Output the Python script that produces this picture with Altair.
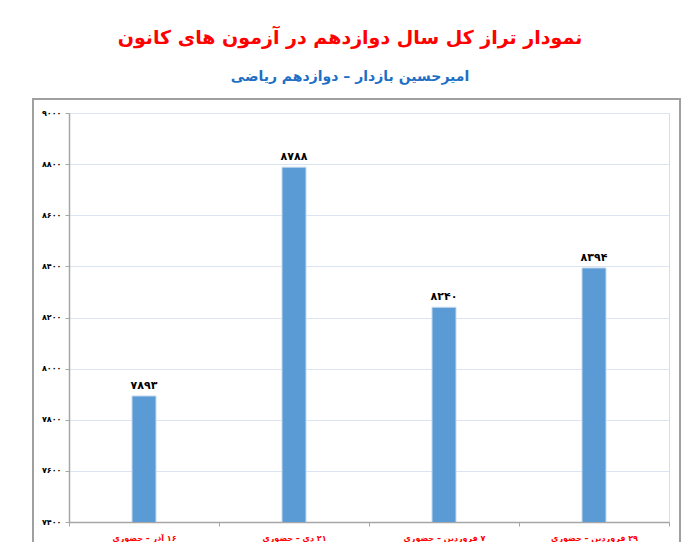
import altair as alt
import pandas as pd

categories = ["۱۶ آذر – حضوری", "۲۱ دی – حضوری", "۷ فروردین – حضوری", "۲۹ فروردین – حضوری"]
values = [7893, 8788, 8240, 8394]
value_labels = ["۷۸۹۳", "۸۷۸۸", "۸۲۴۰", "۸۳۹۴"]
tick_values = [7400, 7600, 7800, 8000, 8200, 8400, 8600, 8800, 9000]
tick_labels = ["۷۴۰۰", "۷۶۰۰", "۷۸۰۰", "۸۰۰۰", "۸۲۰۰", "۸۴۰۰", "۸۶۰۰", "۸۸۰۰", "۹۰۰۰"]

title_text = "نمودار تراز کل سال دوازدهم در آزمون های کانون"
subtitle_text = "امیرحسین بازدار – دوازدهم ریاضی"

df = pd.DataFrame({"cat": categories, "val": values, "lab": value_labels})

FONT = "DejaVu Sans"

label_expr = (
    "[" + ",".join(f"'{l}'" for l in tick_labels) + "][indexof(["
    + ",".join(str(v) for v in tick_values) + "], datum.value)]"
)

x_enc = alt.X(
    "cat:N", sort=None, title=None,
    scale=alt.Scale(paddingInner=0, paddingOuter=0),
    axis=alt.Axis(labelAngle=0, labelColor="#ff0000", labelFontSize=8, labelFont=FONT,
                  labelFontWeight="bold", tickBand="extent", tickColor="#a6a6a6",
                  labelExpr="'\u200f' + datum.label",
                  tickSize=4, domainColor="#a6a6a6", domainWidth=1.5, labelPadding=8,
                  grid=False),
)
y_enc = alt.Y(
    "val:Q", title=None,
    scale=alt.Scale(domain=[7400, 9000], nice=False, zero=False),
    axis=alt.Axis(values=tick_values, labelExpr=label_expr, labelFontSize=8, labelFont=FONT,
                  labelFontWeight="bold", labelColor="#000000", tickColor="#a6a6a6",
                  tickSize=4, domainColor="#a6a6a6", domainWidth=1.5,
                  grid=True, gridColor="#dbe5f1", gridWidth=1, labelPadding=4),
)

bars = alt.Chart(df).mark_bar(size=24, color="#5b9bd5", stroke="#c5d9ee", strokeWidth=1,
                              clip=True).encode(x=x_enc, y=y_enc)
texts = alt.Chart(df).mark_text(dy=-10, fontSize=11, fontWeight="bold", font=FONT, color="#000000").encode(
    x=alt.X("cat:N", sort=None), y="val:Q", text="lab:N"
)
frame = alt.Chart(df).mark_rect(fill=None, stroke="#a0a0a0", strokeWidth=1.5).encode(
    x=alt.value(-36), x2=alt.value(611), y=alt.value(-14), y2=alt.value(434)
)

chart = alt.layer(frame, bars, texts).properties(
    width=600, height=409,
    autosize=alt.AutoSizeParams(type="none"),
    padding={"left": 61, "top": 105, "right": 20, "bottom": 20},
    title=alt.TitleParams(
        text=title_text, subtitle=subtitle_text, anchor="middle", dx=-19,
        font=FONT, fontSize=19, fontWeight="bold", color="#ff0000",
        subtitleFont=FONT, subtitleFontSize=14, subtitleFontWeight="bold",
        subtitleColor="#1f6fc5", subtitlePadding=22, offset=14,
    ),
).configure_view(stroke=None).configure(background="#ffffff")

chart.save("out.html", embed_options={"renderer": "svg", "actions": False})
